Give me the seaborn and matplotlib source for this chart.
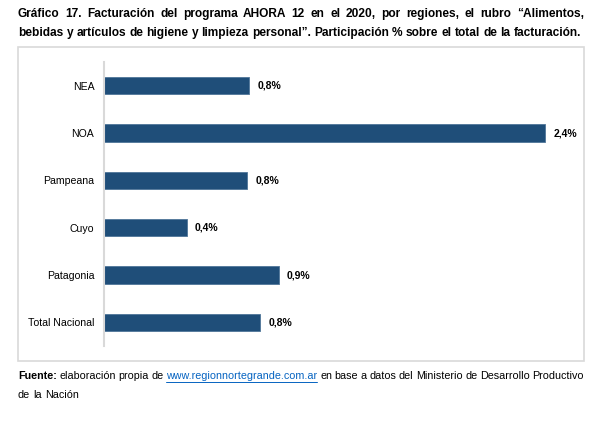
import matplotlib
matplotlib.use("Agg")
import matplotlib.pyplot as plt
from matplotlib.lines import Line2D
from matplotlib.patches import Rectangle
import pandas as pd
import seaborn as sns

# data
regions = ["NEA", "NOA", "Pampeana", "Cuyo", "Patagonia", "Total Nacional"]
share = [0.79, 2.40, 0.78, 0.45, 0.95, 0.85]
share_labels = ["0,8%", "2,4%", "0,8%", "0,4%", "0,9%", "0,8%"]

title_lines = [
    "Gráfico 17. Facturación del programa AHORA 12 en el 2020, por regiones, el rubro “Alimentos,",
    "bebidas y artículos de higiene y limpieza personal”. Participación % sobre el total de la facturación.",
]
source_head = "Fuente:"
source_pre = "elaboración propia de"
source_link = "www.regionnortegrande.com.ar"
source_rest = "en base a datos del Ministerio de Desarrollo Productivo"
source_line2 = "de la Nación"

W, H = 603, 422
BAR = "#1F4E79"
GREY = "#D9D9D9"
LINK = "#0563C1"

sns.set_theme(style="white")
plt.rcParams["font.family"] = ["Liberation Sans", "DejaVu Sans"]

fig = plt.figure(figsize=(W / 100, H / 100), dpi=100)
fig.patch.set_facecolor("white")

# plot area in pixels: axis line at x=104, bars span y 62..346
left, right, top, bottom = 104, 575, 62, 346
ax = fig.add_axes([left / W, 1 - bottom / H, (right - left) / W, (bottom - top) / H])

df = pd.DataFrame({"region": regions, "share": share})
sns.barplot(data=df, x="share", y="region", orient="h", color=BAR, saturation=1,
            width=0.36, edgecolor="#4F7599", linewidth=0.6, ax=ax)

ax.set_xlim(0, 2.4 * (right - left) / 441)
ax.set_ylim(5.5, -0.5)
ax.set_xlabel("")
ax.set_ylabel("")
ax.set_xticks([])
ax.tick_params(axis="y", length=0, pad=7, labelsize=7.6, labelcolor="black")
for s in ["top", "right", "bottom"]:
    ax.spines[s].set_visible(False)
ax.spines["left"].set_color(GREY)
ax.spines["left"].set_linewidth(1.5)
ax.set_facecolor("none")

for p, lab in zip(ax.patches, share_labels):
    ax.annotate(lab, (p.get_width(), p.get_y() + p.get_height() / 2),
                xytext=(6, 0), textcoords="offset points", va="center", ha="left",
                fontsize=7.5, fontweight="bold", color="black")

# frame around the chart
fig.add_artist(Rectangle((18 / W, 1 - 361 / H), (584 - 18) / W, (361 - 47) / H,
                         transform=fig.transFigure, fill=False, ec=GREY, lw=1.2))

renderer = fig.canvas.get_renderer()
X0, X1 = 18, 584


def width_of(s, size, weight="normal"):
    t = fig.text(0, 0, s, fontsize=size, fontweight=weight)
    w = t.get_window_extent(renderer).width
    t.remove()
    return w


def line_of_words(y, words, size, justify, weight="normal", bold_first=False,
                  link=None):
    # word offsets taken from the whole-line layout, one text per word
    offs = []
    for i, word in enumerate(words):
        prefix = " ".join(words[:i + 1])
        offs.append(width_of(prefix, size, weight) - width_of(word, size, weight))
    shift = 0.0
    if bold_first:
        shift = width_of(words[0], size, "bold") - width_of(words[0], size, weight)
    natural = width_of(" ".join(words), size, weight) + shift
    extra = (X1 - X0 - natural) / (len(words) - 1) if justify else 0.0
    for i, word in enumerate(words):
        x = X0 + offs[i] + extra * i + (shift if i > 0 else 0.0)
        wt = "bold" if (bold_first and i == 0) else weight
        color = LINK if word == link else "black"
        t = fig.text(x / W, 1 - y / H, word, fontsize=size, fontweight=wt,
                     color=color, va="center", ha="left")
        if word == link:
            w = t.get_window_extent(renderer).width
            fig.add_artist(Line2D([x / W, (x + w) / W], [1 - (y + 5.5) / H] * 2,
                                  transform=fig.transFigure, color=color, lw=0.7))


# title: second line at natural width fills the frame, first line justified
title_size = 8.0 * (X1 - X0) / width_of(title_lines[1], 8.0, "bold")
line_of_words(14, title_lines[0].split(), title_size, True, "bold")
line_of_words(33, title_lines[1].split(), title_size, False, "bold")

# source note
foot_words = [source_head] + source_pre.split() + [source_link] + source_rest.split()
extra = width_of(source_head, 7.5, "bold") - width_of(source_head, 7.5)
foot_size = 7.5 * (X1 - X0 - extra) / width_of(" ".join(foot_words), 7.5)
line_of_words(376, foot_words, foot_size, True, bold_first=True, link=source_link)
line_of_words(395, source_line2.split(), foot_size, False)

fig.savefig("out.png", dpi=100)
